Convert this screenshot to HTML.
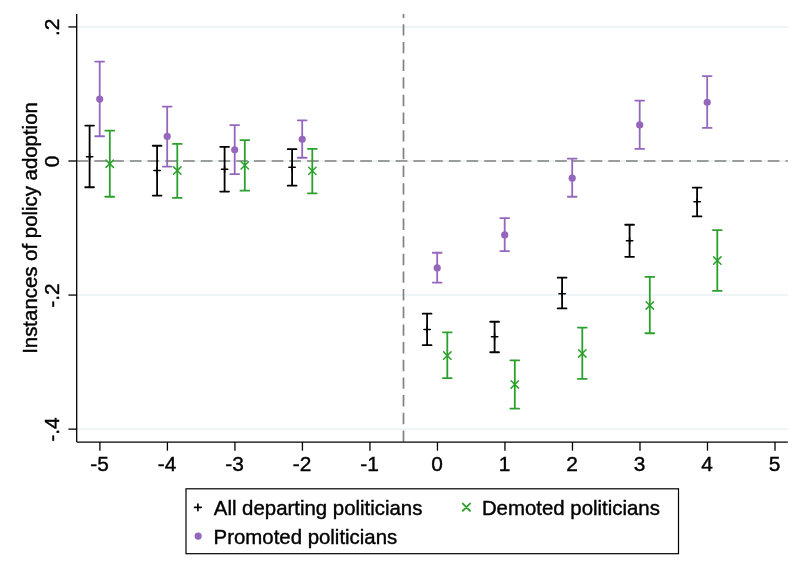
<!DOCTYPE html>
<html lang="en"><head><meta charset="utf-8"><title>Instances of policy adoption</title>
<style>html,body{margin:0;padding:0;background:#fff}svg{display:block;will-change:transform}text{font-family:"Liberation Sans",Arial,Helvetica,sans-serif;fill:#000;stroke:#000;stroke-width:0.4px}</style></head><body>
<svg width="802" height="573" viewBox="0 0 802 573">
<rect x="0" y="0" width="802" height="573" fill="#ffffff"/>
<g stroke="#eaf2f3" stroke-width="1.5" fill="none">
<line x1="76.7" y1="26.93" x2="787.8" y2="26.93"/>
<line x1="76.7" y1="161.00" x2="787.8" y2="161.00"/>
<line x1="76.7" y1="295.07" x2="787.8" y2="295.07"/>
<line x1="76.7" y1="429.14" x2="787.8" y2="429.14"/>
</g>
<g stroke="#808080" stroke-width="1.7" fill="none" stroke-dasharray="11.7 6.02">
<line x1="76.7" y1="161.0" x2="787.8" y2="161.0"/>
<line x1="403.5" y1="441.8" x2="403.5" y2="14.1" stroke-dasharray="11.4 6.26"/>
</g>
<g stroke="#000000" stroke-width="1.8" fill="none" stroke-linecap="round">
<path d="M89.6 125.55 V187.25 M85.2 125.55 H94.0 M85.2 187.25 H94.0"/>
<path d="M157.1 145.75 V195.55 M152.7 145.75 H161.5 M152.7 195.55 H161.5"/>
<path d="M224.6 146.85 V191.55 M220.2 146.85 H229.0 M220.2 191.55 H229.0"/>
<path d="M292.1 149.15 V185.65 M287.7 149.15 H296.5 M287.7 185.65 H296.5"/>
<path d="M427.1 313.65 V345.15 M422.7 313.65 H431.5 M422.7 345.15 H431.5"/>
<path d="M494.6 321.75 V352.25 M490.2 321.75 H499.0 M490.2 352.25 H499.0"/>
<path d="M562.1 277.65 V308.45 M557.7 277.65 H566.5 M557.7 308.45 H566.5"/>
<path d="M629.6 224.75 V256.85 M625.2 224.75 H634.0 M625.2 256.85 H634.0"/>
<path d="M697.1 187.55 V216.45 M692.7 187.55 H701.5 M692.7 216.45 H701.5"/>
</g>
<g stroke="#000000" stroke-width="1.5" fill="none" stroke-linecap="round">
<path d="M86.4 156.65 H92.8 M89.6 153.5 V159.8"/>
<path d="M153.9 170.55 H160.3 M157.1 167.4 V173.8"/>
<path d="M221.4 169.25 H227.8 M224.6 166.1 V172.4"/>
<path d="M288.9 167.25 H295.3 M292.1 164.1 V170.4"/>
<path d="M423.9 329.45 H430.3 M427.1 326.2 V332.6"/>
<path d="M491.4 336.65 H497.8 M494.6 333.4 V339.8"/>
<path d="M558.9 293.65 H565.3 M562.1 290.4 V296.8"/>
<path d="M626.4 240.85 H632.8 M629.6 237.7 V244.0"/>
<path d="M693.9 201.85 H700.3 M697.1 198.7 V205.0"/>
</g>
<g stroke="#9467bd" stroke-width="1.8" fill="none" stroke-linecap="round">
<path d="M99.7 61.55 V136.25 M95.2 61.55 H104.1 M95.2 136.25 H104.1"/>
<path d="M167.2 106.55 V166.55 M162.8 106.55 H171.6 M162.8 166.55 H171.6"/>
<path d="M234.7 125.05 V174.15 M230.3 125.05 H239.1 M230.3 174.15 H239.1"/>
<path d="M302.2 120.35 V157.75 M297.8 120.35 H306.6 M297.8 157.75 H306.6"/>
<path d="M437.2 252.75 V282.55 M432.8 252.75 H441.6 M432.8 282.55 H441.6"/>
<path d="M504.7 218.15 V251.05 M500.3 218.15 H509.1 M500.3 251.05 H509.1"/>
<path d="M572.2 158.65 V196.75 M567.8 158.65 H576.6 M567.8 196.75 H576.6"/>
<path d="M639.7 100.55 V148.95 M635.3 100.55 H644.1 M635.3 148.95 H644.1"/>
<path d="M707.2 76.05 V127.95 M702.8 76.05 H711.6 M702.8 127.95 H711.6"/>
</g>
<g fill="#9467bd" stroke="none">
<circle cx="99.7" cy="99.05" r="3.6"/>
<circle cx="167.2" cy="136.45" r="3.6"/>
<circle cx="234.7" cy="149.75" r="3.6"/>
<circle cx="302.2" cy="139.25" r="3.6"/>
<circle cx="437.2" cy="267.95" r="3.6"/>
<circle cx="504.7" cy="234.95" r="3.6"/>
<circle cx="572.2" cy="178.15" r="3.6"/>
<circle cx="639.7" cy="124.95" r="3.6"/>
<circle cx="707.2" cy="102.25" r="3.6"/>
</g>
<g stroke="#2ca02c" stroke-width="1.8" fill="none" stroke-linecap="round">
<path d="M109.8 130.65 V196.75 M105.3 130.65 H114.2 M105.3 196.75 H114.2"/>
<path d="M177.3 143.95 V197.95 M172.9 143.95 H181.7 M172.9 197.95 H181.7"/>
<path d="M244.8 140.05 V190.65 M240.4 140.05 H249.2 M240.4 190.65 H249.2"/>
<path d="M312.3 148.95 V193.35 M307.9 148.95 H316.7 M307.9 193.35 H316.7"/>
<path d="M447.3 332.35 V378.15 M442.9 332.35 H451.7 M442.9 378.15 H451.7"/>
<path d="M514.8 360.35 V408.55 M510.4 360.35 H519.2 M510.4 408.55 H519.2"/>
<path d="M582.3 327.55 V378.85 M577.9 327.55 H586.7 M577.9 378.85 H586.7"/>
<path d="M649.8 276.95 V333.25 M645.4 276.95 H654.2 M645.4 333.25 H654.2"/>
<path d="M717.3 230.05 V290.85 M712.9 230.05 H721.7 M712.9 290.85 H721.7"/>
</g>
<g stroke="#2ca02c" stroke-width="1.5" fill="none" stroke-linecap="round">
<path d="M106.0 160.1 L113.5 167.4 M106.0 167.4 L113.5 160.1"/>
<path d="M173.6 166.9 L181.0 174.2 M173.6 174.2 L181.0 166.9"/>
<path d="M241.1 161.7 L248.5 169.0 M241.1 169.0 L248.5 161.7"/>
<path d="M308.6 167.2 L316.0 174.5 M308.6 174.5 L316.0 167.2"/>
<path d="M443.6 351.9 L451.0 359.2 M443.6 359.2 L451.0 351.9"/>
<path d="M511.1 380.8 L518.5 388.1 M511.1 388.1 L518.5 380.8"/>
<path d="M578.6 349.7 L586.0 357.1 M578.6 357.1 L586.0 349.7"/>
<path d="M646.1 301.8 L653.5 309.1 M646.1 309.1 L653.5 301.8"/>
<path d="M713.6 256.9 L721.0 264.2 M713.6 264.2 L721.0 256.9"/>
</g>
<g stroke="#000" stroke-width="1.3" fill="none">
<line x1="76.7" y1="14.1" x2="76.7" y2="442.1"/>
<line x1="76.7" y1="442.1" x2="787.8" y2="442.1"/>
<line x1="68.4" y1="26.93" x2="76.7" y2="26.93"/>
<line x1="68.4" y1="161.00" x2="76.7" y2="161.00"/>
<line x1="68.4" y1="295.07" x2="76.7" y2="295.07"/>
<line x1="68.4" y1="429.14" x2="76.7" y2="429.14"/>
<line x1="99.90" y1="442.1" x2="99.90" y2="450.7"/>
<line x1="167.41" y1="442.1" x2="167.41" y2="450.7"/>
<line x1="234.92" y1="442.1" x2="234.92" y2="450.7"/>
<line x1="302.43" y1="442.1" x2="302.43" y2="450.7"/>
<line x1="369.94" y1="442.1" x2="369.94" y2="450.7"/>
<line x1="437.45" y1="442.1" x2="437.45" y2="450.7"/>
<line x1="504.96" y1="442.1" x2="504.96" y2="450.7"/>
<line x1="572.47" y1="442.1" x2="572.47" y2="450.7"/>
<line x1="639.98" y1="442.1" x2="639.98" y2="450.7"/>
<line x1="707.49" y1="442.1" x2="707.49" y2="450.7"/>
<line x1="775.00" y1="442.1" x2="775.00" y2="450.7"/>
</g>
<g font-size="20.4" text-anchor="middle">
<text x="99.50" y="470.8" font-size="20.9">-5</text>
<text x="167.01" y="470.8" font-size="20.9">-4</text>
<text x="234.52" y="470.8" font-size="20.9">-3</text>
<text x="302.03" y="470.8" font-size="20.9">-2</text>
<text x="369.54" y="470.8" font-size="20.9">-1</text>
<text x="437.05" y="470.8" font-size="20.9">0</text>
<text x="504.56" y="470.8" font-size="20.9">1</text>
<text x="572.07" y="470.8" font-size="20.9">2</text>
<text x="639.58" y="470.8" font-size="20.9">3</text>
<text x="707.09" y="470.8" font-size="20.9">4</text>
<text x="774.60" y="470.8" font-size="20.9">5</text>
<text transform="translate(59.3 27.38) rotate(-90)" font-size="20.9">.2</text>
<text transform="translate(59.3 161.45) rotate(-90)" font-size="20.9">0</text>
<text transform="translate(59.3 295.52) rotate(-90)" font-size="20.9">-.2</text>
<text transform="translate(59.3 429.59) rotate(-90)" font-size="20.9">-.4</text>
<text transform="translate(37.2 228) rotate(-90)">Instances of policy adoption</text>
</g>
<rect x="186" y="488.8" width="492.5" height="64.9" fill="#fff" stroke="#000" stroke-width="1.2"/>
<g font-size="20.4">
<text x="213.8" y="515.4">All departing politicians</text>
<text x="213.6" y="543.6">Promoted politicians</text>
<text x="481.9" y="515.4">Demoted politicians</text>
</g>
<path d="M194.6 507.3 H201.2 M197.9 504.0 V510.6" stroke="#000" stroke-width="1.7" fill="none" stroke-linecap="round"/>
<circle cx="198.15" cy="536.1" r="3.6" fill="#9467bd"/>
<path d="M462.8 503.55 L470.0 510.75 M462.8 510.75 L470.0 503.55" stroke="#2ca02c" stroke-width="1.8" fill="none" stroke-linecap="round"/>
</svg></body></html>
